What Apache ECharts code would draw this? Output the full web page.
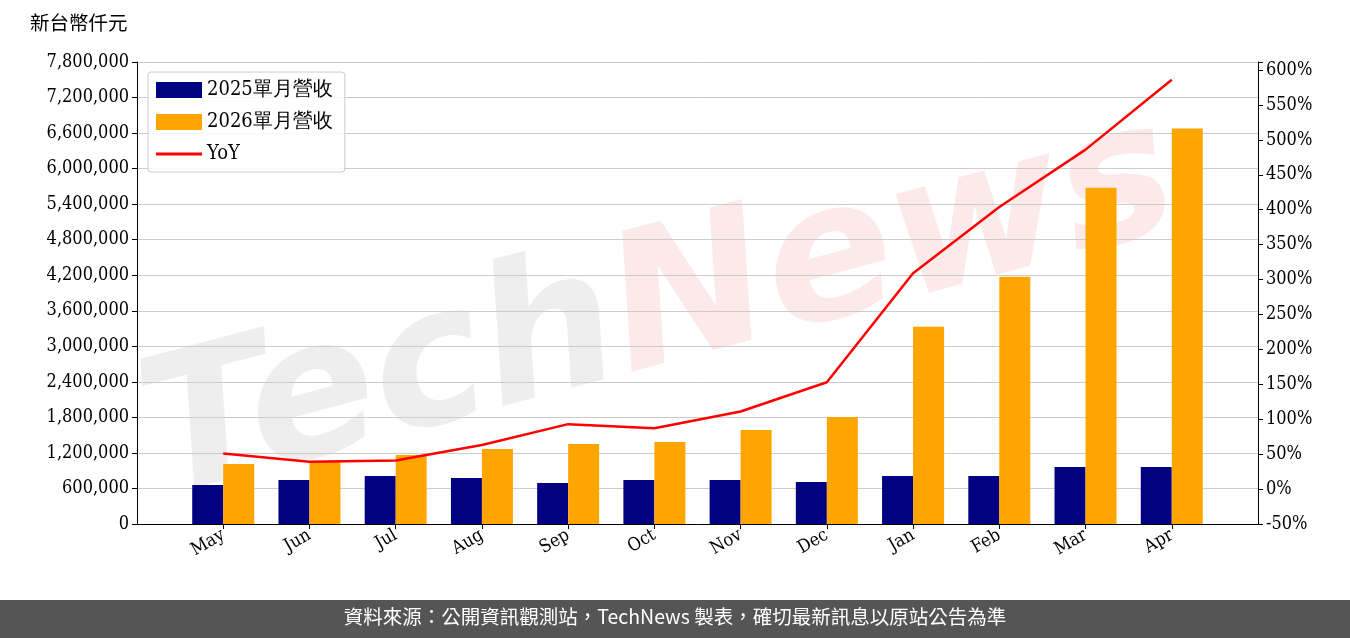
<!DOCTYPE html>
<html><head><meta charset="utf-8">
<script src="https://cdn.jsdelivr.net/npm/echarts@6/dist/echarts.min.js"></script>
<style>html,body{margin:0;padding:0;background:#fff}#c{width:1350px;height:638px}</style>
</head><body><div id="c"></div>
<script>
const categories=['May','Jun','Jul','Aug','Sep','Oct','Nov','Dec','Jan','Feb','Mar','Apr'];
const rev2025=[659000,744000,811000,777000,693000,744000,744000,710000,811000,811000,963000,963000];
const rev2026=[1014000,1048000,1166000,1268000,1352000,1386000,1589000,1808000,3330000,4175000,5679000,6676000];
const yoy=[51,39,41,63,93,87,111,153,309,404,486,586];
const F='"DejaVu Serif Condensed","DejaVu Serif"';
const pad=a=>[null,...a,null];
const cats=['',...categories,''];
const chart=echarts.init(document.getElementById('c'));
chart.setOption({
  animation:false,
  textStyle:{fontFamily:F},
  graphic:[
    {type:'text',left:125,top:85,rotation:0.26,z:-1,
     style:{text:'{a|Tech}{b|News}',rich:{a:{font:'italic bold 190px "DejaVu Sans"',fill:'rgba(120,120,120,0.13)'},b:{font:'italic bold 190px "DejaVu Sans"',fill:'rgba(230,80,80,0.12)'}}}},
    {type:'rect',left:0,top:600,shape:{width:1350,height:38},style:{fill:'#555'}},
    {type:'text',left:'center',top:607,style:{text:'資料來源：公開資訊觀測站，TechNews 製表，確切最新訊息以原站公告為準',font:'19.5px "Noto Sans CJK TC"',fill:'#fff'}},
    {type:'text',left:30,top:13,style:{text:'新台幣仟元',font:'19.5px "Noto Sans CJK TC"',fill:'#000'}}
  ],
  legend:{left:148,top:72,orient:'vertical',itemWidth:46,itemHeight:16,itemGap:12,padding:[8,12,8,8],
    borderColor:'#ccc',borderWidth:1,borderRadius:3,backgroundColor:'rgba(255,255,255,0.85)',
    textStyle:{fontSize:20,fontFamily:F,color:'#000'},
    data:[{name:'2025單月營收',icon:'rect'},{name:'2026單月營收',icon:'rect'},{name:'YoY',icon:'path://M0,0H46V3H0Z'}]},
  grid:{left:137,right:92,top:62,bottom:114},
  xAxis:{type:'category',data:cats,boundaryGap:false,
    axisTick:{show:true,interval:i=>i>0&&i<cats.length-1,lineStyle:{color:'#000'}},
    axisLine:{lineStyle:{color:'#000'}},axisLabel:{rotate:30,fontSize:18,color:'#000',fontFamily:F,margin:10,interval:0}},
  yAxis:[
    {type:'value',min:0,max:7800000,interval:600000,
     axisLine:{show:true,lineStyle:{color:'#000'}},axisTick:{show:true,lineStyle:{color:'#000'}},
     axisLabel:{fontSize:18,color:'#000',fontFamily:F,formatter:v=>v.toLocaleString('en-US')},
     splitLine:{lineStyle:{color:'#ccc'}}},
    {type:'value',min:-50,max:611.5,interval:50,
     axisLine:{show:true,lineStyle:{color:'#000'}},axisTick:{show:true,lineStyle:{color:'#000'}},
     axisLabel:{fontSize:18,color:'#000',fontFamily:F,formatter:v=>(Math.abs(v%50)<0.01?Math.round(v)+'%':'')},
     splitLine:{show:false}}
  ],
  series:[
    {name:'2025單月營收',type:'bar',data:pad(rev2025),barWidth:31,barGap:'0%',itemStyle:{color:'#000080'}},
    {name:'2026單月營收',type:'bar',data:pad(rev2026),barWidth:31,itemStyle:{color:'#FFA500'}},
    {name:'YoY',type:'line',yAxisIndex:1,data:pad(yoy),symbol:'none',lineStyle:{color:'#ff0000',width:2.5},itemStyle:{color:'#ff0000'}}
  ]
});
</script></body></html>
